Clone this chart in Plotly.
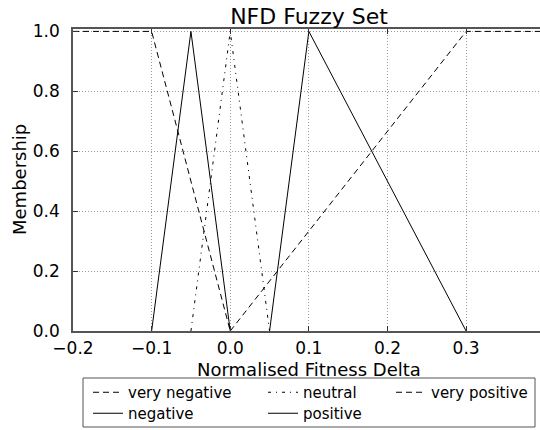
import plotly.graph_objects as go

# Fuzzy set definitions (x breakpoints, membership values)
vn_x = [-0.2, -0.1, 0.0]
vn_y = [1.0, 1.0, 0.0]
neg_x = [-0.1, -0.05, 0.0]
neg_y = [0.0, 1.0, 0.0]
neu_x = [-0.05, 0.0, 0.05]
neu_y = [0.0, 1.0, 0.0]
pos_x = [0.05, 0.1, 0.3]
pos_y = [0.0, 1.0, 0.0]
vp_x = [0.0, 0.3, 0.4]
vp_y = [0.0, 1.0, 1.0]

x_ticks = [-0.2, -0.1, 0.0, 0.1, 0.2, 0.3]
y_ticks = [0.0, 0.2, 0.4, 0.6, 0.8, 1.0]

W, H = 540, 430
L, R, T, B = 73, 0, 29, 99
pw, ph = W - L - R, H - T - B

def px2x(px):
    return (px - L) / pw

def py2y(py):
    return (H - B - py) / ph

FONT = "DejaVu Sans"
line = dict(color="black", width=1)

fig = go.Figure()
fig.add_trace(go.Scatter(x=vn_x, y=vn_y, mode="lines", name="very negative",
                         line=dict(line, dash="6px,4px"), legend="legend"))
fig.add_trace(go.Scatter(x=neg_x, y=neg_y, mode="lines", name="negative",
                         line=dict(line), legend="legend2"))
fig.add_trace(go.Scatter(x=neu_x, y=neu_y, mode="lines", name="neutral",
                         line=dict(line, dash="3px,5px,1px,5px"), legend="legend3"))
fig.add_trace(go.Scatter(x=pos_x, y=pos_y, mode="lines", name="positive",
                         line=dict(line), legend="legend4"))
fig.add_trace(go.Scatter(x=vp_x, y=vp_y, mode="lines", name="very positive",
                         line=dict(line, dash="6px,4px"), legend="legend5"))

leg_common = dict(orientation="v", xanchor="left", yanchor="top",
                  bgcolor="rgba(0,0,0,0)", borderwidth=0,
                  font=dict(family=FONT, size=15, color="black"),
                  tracegroupgap=0)
row1, row2 = py2y(376), py2y(397)
col1, col2, col3 = px2x(88), px2x(263), px2x(391)

fig.update_layout(
    width=W, height=H,
    margin=dict(l=L, r=R, t=T, b=B, pad=0, autoexpand=False),
    paper_bgcolor="white", plot_bgcolor="white",
    font=dict(family=FONT, color="black"),
    title=dict(text="NFD Fuzzy Set", x=px2x(309), xref="paper", xanchor="center",
               y=1, yref="paper", yanchor="bottom", pad=dict(b=5),
               font=dict(family=FONT, size=22, color="black")),
    showlegend=True,
    legend=dict(leg_common, x=col1, y=row1),
    legend2=dict(leg_common, x=col1, y=row2),
    legend3=dict(leg_common, x=col2, y=row1),
    legend4=dict(leg_common, x=col2, y=row2),
    legend5=dict(leg_common, x=col3, y=row1),
    shapes=[dict(type="rect", xref="paper", yref="paper",
                 x0=px2x(83), x1=px2x(535), y0=py2y(378), y1=py2y(427),
                 line=dict(color="#555", width=1), fillcolor="rgba(0,0,0,0)",
                 layer="above")],
    annotations=[
        dict(text="Normalised Fitness Delta", xref="paper", yref="paper",
             x=px2x(309), y=py2y(369), xanchor="center", yanchor="middle",
             showarrow=False, font=dict(family=FONT, size=18, color="black")),
        dict(text="Membership", xref="paper", yref="paper",
             x=px2x(19), y=py2y(180), xanchor="center", yanchor="middle",
             textangle=-90, showarrow=False,
             font=dict(family=FONT, size=18, color="black")),
    ],
)

fig.update_xaxes(
    range=[-0.2, 0.394], tickvals=x_ticks, tickformat=".1f",
    showgrid=True, gridcolor="#999", gridwidth=1, griddash="1px,2px",
    zeroline=False, showline=True, linecolor="#555", linewidth=1.5, mirror="ticks",
    ticks="inside", ticklen=5, tickcolor="#333", tickwidth=1,
    ticklabelstandoff=1, automargin=False,
    tickfont=dict(family=FONT, size=17, color="black"),
)
fig.update_yaxes(
    range=[0, 1.008], tickvals=y_ticks, tickformat=".1f",
    showgrid=True, gridcolor="#999", gridwidth=1, griddash="1px,2px",
    zeroline=False, showline=True, linecolor="#555", linewidth=1.5, mirror=False,
    ticks="inside", ticklen=5, tickcolor="#333", tickwidth=1,
    ticklabelstandoff=8, automargin=False,
    tickfont=dict(family=FONT, size=17, color="black"),
)

fig.write_html("out.html")
